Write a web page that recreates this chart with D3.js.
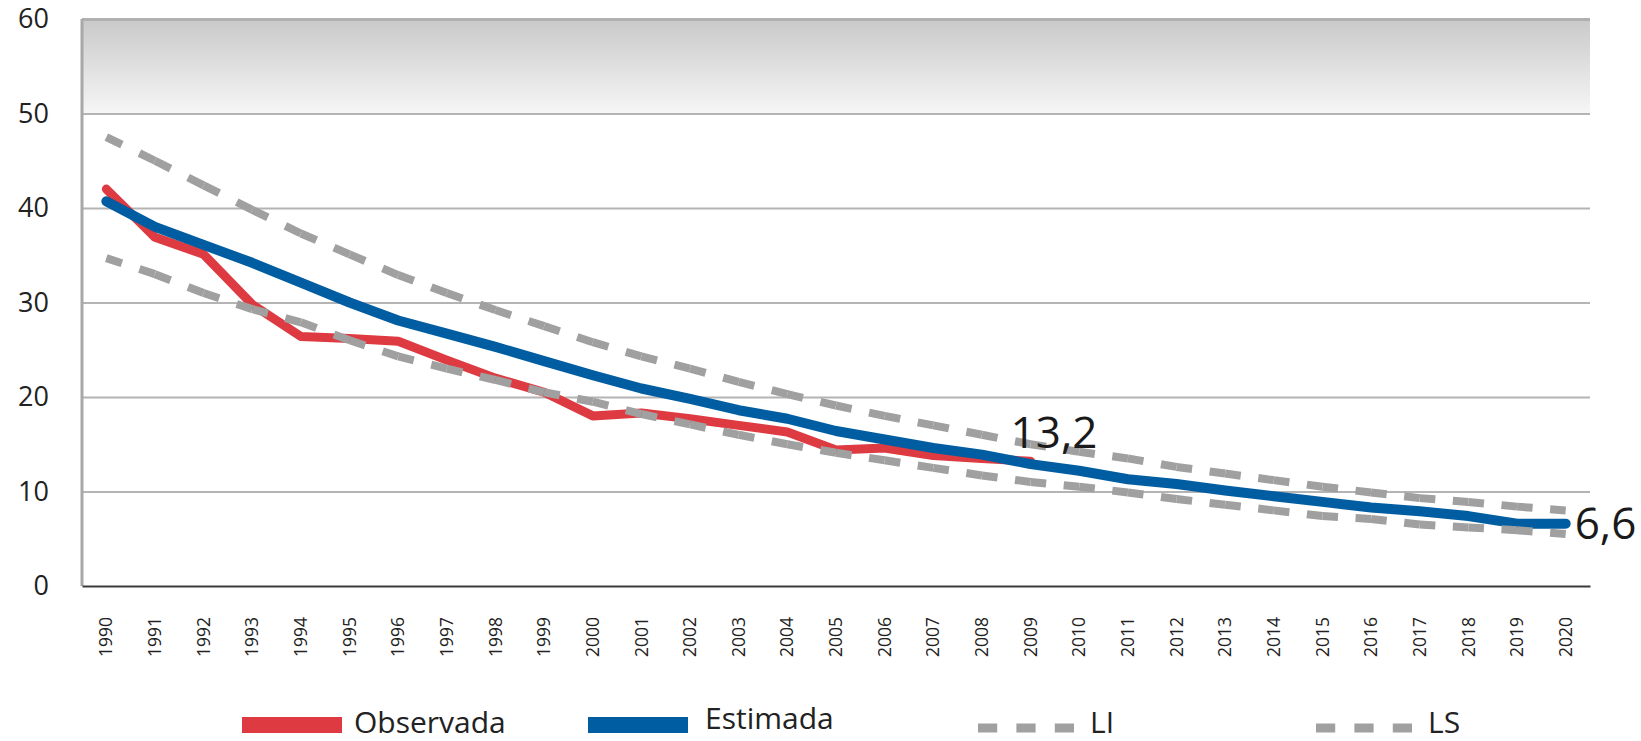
<!DOCTYPE html>
<html><head><meta charset="utf-8">
<script src="https://cdn.jsdelivr.net/npm/d3@7"></script>
<style>html,body{margin:0;padding:0;background:#fff;} svg{display:block;}</style>
</head><body>
<svg id="c" width="1641" height="741"></svg>
<script>
const years = [1990,1991,1992,1993,1994,1995,1996,1997,1998,1999,2000,2001,2002,2003,2004,2005,2006,2007,2008,2009,2010,2011,2012,2013,2014,2015,2016,2017,2018,2019,2020];
const observada = [42.0,36.9,35.1,29.8,26.4,26.2,25.9,23.9,22.0,20.5,18.0,18.3,17.7,17.0,16.3,14.4,14.6,13.8,13.5,13.2];
const estimada = [40.7,38.0,36.1,34.2,32.1,30.0,28.1,26.7,25.3,23.8,22.3,20.9,19.8,18.6,17.7,16.4,15.5,14.6,13.9,12.9,12.2,11.3,10.8,10.1,9.5,8.9,8.3,7.9,7.4,6.6,6.6];
const li = [34.7,33.0,31.0,29.3,27.9,26.0,24.3,23.0,21.8,20.5,19.5,18.2,17.1,16.0,15.0,14.1,13.3,12.5,11.7,11.0,10.5,9.9,9.2,8.6,8.0,7.4,7.1,6.5,6.2,5.9,5.5];
const ls = [47.5,45.0,42.4,39.8,37.3,35.1,32.9,31.0,29.2,27.5,25.8,24.3,23.0,21.6,20.3,19.1,18.0,17.0,16.0,15.0,14.2,13.5,12.6,11.9,11.2,10.5,9.9,9.3,8.9,8.4,8.0];
const yTicks = [0,10,20,30,40,50,60];
const seriesNames = ["Observada","Estimada","LI","LS"];
const lastObsLabel = "13,2";
const lastEstLabel = "6,6";

const svg = d3.select('#c');
const m = {left:82, right:1590, top:19, bottom:586};
const x = d3.scaleBand().domain(years).range([m.left, m.right]).padding(0);
const cx = d => x(d) + x.bandwidth()/2;
const y = d3.scaleLinear().domain([0,60]).range([m.bottom, m.top]);
const FONT = "'Open Sans', 'Noto Sans', sans-serif";

const RED = "#dd3b41", BLUE = "#005da1", GRAY = "#a0a0a0";

// gradient band between 50 and 60
const defs = svg.append('defs');
const g = defs.append('linearGradient').attr('id','band').attr('x1',0).attr('y1',0).attr('x2',0).attr('y2',1);
g.append('stop').attr('offset','0%').attr('stop-color','#c8c9c8');
g.append('stop').attr('offset','100%').attr('stop-color','#f6f6f6');
svg.append('rect').attr('x', m.left).attr('y', y(60)).attr('width', m.right - m.left)
  .attr('height', y(50) - y(60)).attr('fill','url(#band)');

// gridlines
const grid = svg.append('g').attr('transform', `translate(${m.left},0)`)
  .call(d3.axisLeft(y).tickValues(yTicks.filter(v => v > 0)).tickSize(-(m.right - m.left)).tickFormat(''));
grid.select('.domain').remove();
grid.selectAll('line').attr('stroke','#b4b4b4').attr('stroke-width',2);
grid.selectAll('.tick').filter(d => d === 60).select('line').attr('stroke','#b0b0b0').attr('stroke-width',3);

// y labels
const yl = svg.append('g').attr('transform', `translate(${m.left},0)`)
  .call(d3.axisLeft(y).tickValues(yTicks).tickSize(0).tickPadding(33));
yl.select('.domain').remove();
yl.selectAll('text').attr('font-family', FONT).attr('font-size', 27).attr('fill','#222');

// left axis line
svg.append('line').attr('x1', m.left).attr('x2', m.left).attr('y1', y(60)).attr('y2', y(0))
  .attr('stroke','#a8a8a8').attr('stroke-width',3);

// x axis
const xa = svg.append('g').attr('transform', `translate(0,${m.bottom})`)
  .call(d3.axisBottom(x).tickSize(0).tickSizeOuter(0));
xa.select('.domain').attr('stroke','#3a3a3a').attr('stroke-width',2);
xa.selectAll('text').attr('font-family', FONT).attr('font-size', 17.5).attr('fill','#222')
  .attr('transform','rotate(-90)').attr('text-anchor','end')
  .attr('x', -31).attr('y', 0).attr('dy','0.35em');

// solid lines
const line = d3.line().x((d,i) => cx(years[i])).y(d => y(d));
svg.append('path').datum(observada).attr('d', line).attr('fill','none')
  .attr('stroke', RED).attr('stroke-width', 9).attr('stroke-linecap','round').attr('stroke-linejoin','round');
svg.append('path').datum(estimada).attr('d', line).attr('fill','none')
  .attr('stroke', BLUE).attr('stroke-width', 10).attr('stroke-linecap','round').attr('stroke-linejoin','round');

// dashed lines: dash centred on every data point
function dashed(arr) {
  const gg = svg.append('g');
  for (let i = 0; i < arr.length - 1; i++) {
    const x0 = cx(years[i]), y0 = y(arr[i]), x1 = cx(years[i+1]), y1 = y(arr[i+1]);
    const L = Math.hypot(x1 - x0, y1 - y0);
    const h = 0.32 * L;
    gg.append('path').attr('d', `M${x0},${y0}L${x1},${y1}`).attr('fill','none')
      .attr('stroke', GRAY).attr('stroke-width', 8)
      .attr('stroke-dasharray', `${h},${L - 2*h},${h},${L}`);
  }
}
dashed(li);
dashed(ls);

// value labels
svg.append('text').attr('x', cx(2009) - 20).attr('y', y(observada[observada.length-1]) - 13)
  .attr('font-family', FONT).attr('font-size', 44).attr('fill','#1a1a1a').text(lastObsLabel);
svg.append('text').attr('x', cx(2020) + 9).attr('y', y(estimada[estimada.length-1]) + 15)
  .attr('font-family', FONT).attr('font-size', 44).attr('fill','#1a1a1a').text(lastEstLabel);

// legend
const leg = [
  {name: seriesNames[0], color: RED, dash: false, x0: 242, x1: 342, tx: 354, by: 733},
  {name: seriesNames[1], color: BLUE, dash: false, x0: 588, x1: 688, tx: 705, by: 729},
  {name: seriesNames[2], color: GRAY, dash: true, x0: 978, x1: 1074, tx: 1090, by: 733},
  {name: seriesNames[3], color: GRAY, dash: true, x0: 1316, x1: 1412, tx: 1428, by: 733}
];
leg.forEach(d => {
  svg.append('line').attr('x1', d.x0).attr('x2', d.x1).attr('y1', d.dash ? 728 : 725).attr('y2', d.dash ? 728 : 725)
    .attr('stroke', d.color).attr('stroke-width', d.dash ? 9 : 16)
    .attr('stroke-dasharray', d.dash ? '19.2,19.2' : null);
  svg.append('text').attr('x', d.tx).attr('y', d.by).attr('font-family', FONT)
    .attr('font-size', 30).attr('fill','#222').text(d.name);
});
</script>
</body></html>
